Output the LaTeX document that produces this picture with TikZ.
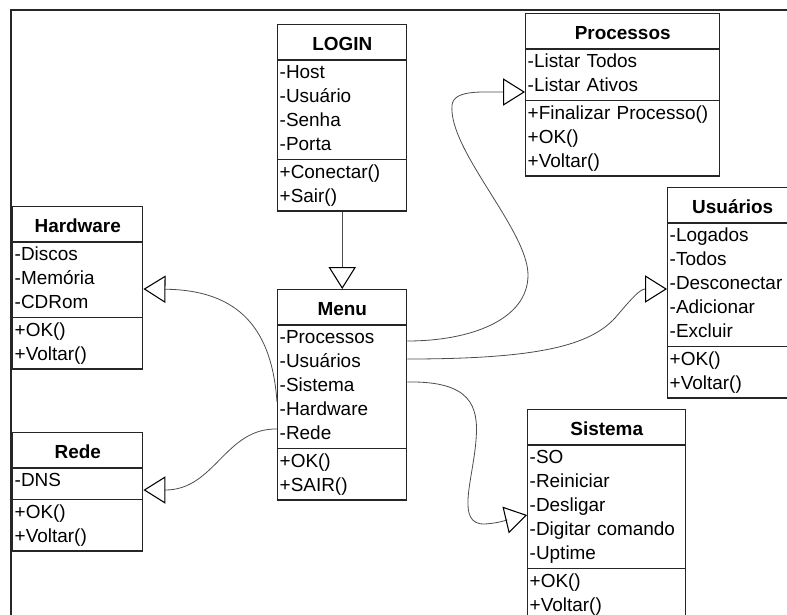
\documentclass[tikz,border=0pt]{standalone}
\usepackage{fontspec}
\setmainfont{Liberation Sans}
\usetikzlibrary{shapes.multipart,arrows.meta}

\newcommand{\titulo}[1]{\rule[-6pt]{0pt}{24pt}\makebox[\linewidth]{\bfseries #1}}

\tikzset{
  classe/.style={rectangle split, rectangle split parts=3, draw=black!85, line width=1.1pt,
    anchor=north west, inner xsep=1.5pt, inner ysep=0.75pt, text width=#1, align=left,
    font=\fontsize{14.2}{18}\selectfont},
  heranca/.style={draw=black!70, line width=0.6pt,
    -{Triangle[open, length=16.5pt, width=20.5pt, color=black, line width=0.8pt]}}
}

\begin{document}
\begin{tikzpicture}[x=0.75pt,y=-0.75pt]
  \useasboundingbox (0,0) rectangle (787,614);
  \clip (0,0) rectangle (787,614);
  \draw[line width=1.1pt, black!85] (11,620) -- (11,10) -- (790,10);

  \node[classe=93.75pt] (login) at (277,24) {\titulo{LOGIN}
    \nodepart{two}\strut-Host\\-Usuário\\-Senha\\-Porta\strut
    \nodepart{three}\strut+Conectar()\\+Sair()\strut};
  \node[classe=142.5pt] (proc) at (525,13) {\titulo{Processos}
    \nodepart{two}\strut-Listar Todos\\-Listar Ativos\strut
    \nodepart{three}\strut+Finalizar Processo()\\+OK()\\+Voltar()\strut};
  \node[classe=94.5pt] (usu) at (667,187) {\titulo{Usuários}
    \nodepart{two}\strut-Logados\\-Todos\\-Desconectar\\-Adicionar\\-Excluir\strut
    \nodepart{three}\strut+OK()\\+Voltar()\strut};
  \node[classe=94.5pt] (hard) at (12,206) {\titulo{Hardware}
    \nodepart{two}\strut-Discos\\-Memória\\-CDRom\strut
    \nodepart{three}\strut+OK()\\+Voltar()\strut};
  \node[classe=93.75pt] (menu) at (277,289) {\titulo{Menu}
    \nodepart{two}\strut-Processos\\-Usuários\\-Sistema\\-Hardware\\-Rede\strut
    \nodepart{three}\strut+OK()\\+SAIR()\strut};
  \node[classe=94.5pt] (rede) at (12,432) {\titulo{Rede}
    \nodepart{two}\strut-DNS\rule[-8.4pt]{0pt}{21pt}
    \nodepart{three}\strut+OK()\\+Voltar()\strut};
  \node[classe=115.5pt] (sis) at (527,409) {\titulo{Sistema}
    \nodepart{two}\strut-SO\\-Reiniciar\\-Desligar\\-Digitar comando\\-Uptime\strut
    \nodepart{three}\strut+OK()\\+Voltar()\strut};

  \draw[heranca] (login.south) -- (menu.north);
  \draw[heranca] (menu.east |- 0,341) .. controls (470,341) and (528,320) .. (528,275)
    .. controls (528,230) and (448,150) .. (452,105)
    .. controls (454,90) and (480,92) .. (proc.west |- 0,92);
  \draw[heranca] (menu.east |- 0,359) .. controls (540,359) and (590,345) .. (615,318)
    .. controls (632,298) and (640,289) .. (usu.west |- 0,289);
  \draw[heranca] (menu.east |- 0,382) .. controls (470,381) and (479,405) .. (476,440)
    .. controls (473,480) and (455,525) .. (485,524)
    .. controls (500,523) and (510,519) .. (sis.west |- 0,515);
  \draw[heranca] (menu.west |- 0,402) .. controls (272,330) and (240,290) .. (hard.east |- 0,289);
  \draw[heranca] (menu.west |- 0,429) .. controls (225,428) and (215,490) .. (rede.east |- 0,490);
\end{tikzpicture}
\end{document}
